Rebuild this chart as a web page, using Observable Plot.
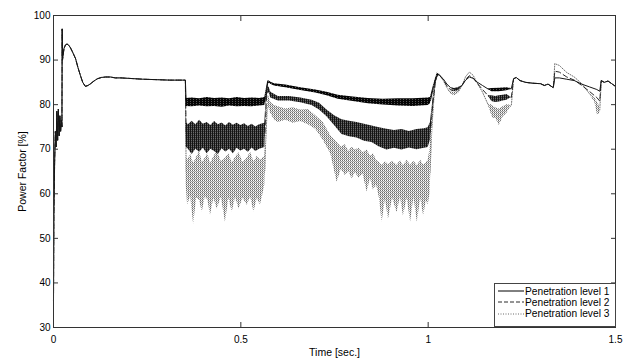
<!DOCTYPE html>
<html>
<head>
<meta charset="utf-8">
<script src="https://cdn.jsdelivr.net/npm/d3@7"></script>
<script src="https://cdn.jsdelivr.net/npm/@observablehq/plot@0.6"></script>
<style>
  body { margin: 0; background: #fff; }
  #wrap { position: relative; width: 643px; height: 361px; font-family: "Liberation Sans", Arial, sans-serif; }
  #legend { position: absolute; left: 494px; top: 283px; width: 122px; height: 44px; box-sizing: border-box;
            border: 1px solid #444; background: #fff; padding-top: 1.5px; }
  .row { height: 11.3px; display: flex; align-items: center; font-size: 10.2px; color: #000; white-space: nowrap; }
  .row svg { margin-left: 3px; margin-right: 1px; }
</style>
</head>
<body>
<div id="wrap"></div>
<script>
// ---- data ----
const xTicks = [0, 0.5, 1, 1.5];
const xTickLabels = ["0", "0.5", "1", "1.5"];
const yTicks = [30, 40, 50, 60, 70, 80, 90, 100];
const seriesNames = ["Penetration level 1", "Penetration level 2", "Penetration level 3"];

// common start-up transient (all three levels coincide)
const startT = [0, 0.001, 0.003, 0.005, 0.007, 0.009, 0.011, 0.013, 0.015, 0.017, 0.019, 0.021, 0.0225, 0.0232, 0.024, 0.028, 0.032, 0.036, 0.040, 0.045, 0.052, 0.059, 0.065, 0.072, 0.078, 0.085, 0.092, 0.099, 0.108, 0.117, 0.128, 0.139, 0.152, 0.165, 0.18, 0.20, 0.24, 0.277, 0.31, 0.33];
const startV = [36, 55, 67, 74, 70.5, 78.5, 72, 79, 73, 77.5, 74, 76.5, 75, 97, 90, 92.6, 93.4, 93.6, 93.4, 92.8, 91.6, 90.3, 88.4, 86.5, 85.0, 84.1, 84.3, 84.7, 85.3, 85.8, 86.1, 86.2, 86.2, 86.0, 86.0, 85.9, 85.7, 85.6, 85.5, 85.5];

// [time, lower envelope, upper envelope]
const level1 = [
  [0.352,85.5,85.5],[0.354,79.6,81.4],[0.37,79.5,81.5],[0.39,79.7,81.3],[0.41,79.5,81.6],[0.43,79.6,81.4],
  [0.45,79.4,81.5],[0.47,79.7,81.3],[0.49,79.5,81.6],[0.51,79.6,81.4],[0.53,79.5,81.5],[0.55,79.7,81.4],
  [0.564,79.8,81.6],[0.568,82.0,83.5],[0.572,84.6,85.3],[0.576,84.9,85.3],[0.58,84.6,85.0],[0.59,84.2,84.7],
  [0.62,83.8,84.4],[0.66,83.2,83.8],[0.70,82.6,83.3],[0.73,82.0,82.8],[0.76,81.2,82.1],[0.80,80.7,81.7],
  [0.84,80.2,81.4],[0.88,79.9,81.2],[0.92,79.7,81.3],[0.96,79.6,81.3],[1.0,79.8,81.5],[1.006,80.2,81.6],
  [1.015,84.0,84.5],[1.025,86.5,87.0],[1.03,86.6,86.6],[1.04,85.8,85.8],[1.05,84.6,84.6],[1.06,83.8,83.8],
  [1.07,83.4,83.6],[1.08,83.6,83.8],[1.09,84.3,84.3],[1.10,85.5,85.5],[1.11,86.2,86.2],[1.12,85.9,85.9],
  [1.13,85.1,85.1],[1.145,84.3,84.3],[1.16,83.5,83.5],[1.17,82.9,83.6],[1.19,82.9,83.7],[1.21,83.1,83.8],
  [1.222,83.6,83.6],[1.228,85.8,85.8],[1.235,86.1,86.1],[1.245,85.4,85.4],[1.26,85.0,85.0],[1.28,84.8,84.8],
  [1.30,84.7,84.7],[1.31,84.3,84.3],[1.32,84.6,84.6],[1.334,83.8,83.8],[1.338,86.0,86.0],[1.35,86.0,86.0],
  [1.37,85.7,85.7],[1.39,85.4,85.4],[1.41,84.6,84.6],[1.43,84.0,84.0],[1.45,83.4,83.4],[1.458,83.0,83.0],
  [1.462,85.4,85.4],[1.47,85.0,85.0],[1.48,85.3,85.3],[1.49,84.7,84.7],[1.5,84.1,84.1]
];

const level2 = [
  [0.352,85.5,85.5],[0.354,70.5,76.0],[0.36,70.0,75.5],[0.37,68.8,76.3],[0.38,70.0,75.5],[0.39,69.3,76.5],
  [0.40,70.2,75.6],[0.41,69.0,76.0],[0.42,70.0,75.3],[0.43,69.5,76.2],[0.44,68.8,75.5],[0.45,70.1,75.9],
  [0.46,69.4,75.2],[0.47,70.0,76.0],[0.48,69.0,75.4],[0.49,70.2,75.8],[0.50,69.6,75.3],[0.51,70.0,75.7],
  [0.52,69.3,75.1],[0.53,70.3,75.6],[0.54,69.5,75.0],[0.55,70.0,75.5],[0.564,70.4,75.8],[0.568,80.0,82.0],
  [0.572,83.0,84.2],[0.576,82.5,83.8],[0.58,81.5,82.8],[0.60,80.8,81.8],[0.63,80.8,81.8],[0.66,80.4,81.5],
  [0.69,79.8,81.0],[0.71,78.8,80.3],[0.73,77.3,78.8],[0.75,75.3,77.5],[0.77,73.3,76.6],[0.79,72.8,76.3],
  [0.81,72.5,76.0],[0.83,71.8,75.6],[0.85,71.5,75.2],[0.87,70.5,74.8],[0.89,69.8,74.5],[0.91,70.2,74.2],
  [0.93,69.8,74.4],[0.95,70.3,74.0],[0.97,69.9,74.4],[0.99,70.2,74.6],[1.0,70.4,74.8],[1.006,72.0,76.0],
  [1.012,79.0,80.5],[1.02,85.3,86.0],[1.025,86.6,87.0],[1.03,86.6,86.6],[1.04,85.6,85.6],[1.05,84.2,84.2],
  [1.06,83.3,83.3],[1.07,82.9,83.3],[1.08,83.2,83.6],[1.09,84.2,84.2],[1.10,85.7,85.7],[1.11,86.5,86.5],
  [1.12,86.0,86.0],[1.13,84.9,84.9],[1.145,83.4,83.4],[1.16,82.0,82.0],[1.17,80.7,82.0],[1.18,80.5,81.8],
  [1.19,80.6,82.0],[1.20,80.8,82.1],[1.21,81.0,82.3],[1.222,81.6,81.6],[1.228,85.8,85.8],[1.235,86.1,86.1],
  [1.245,85.4,85.4],[1.26,85.0,85.0],[1.28,84.8,84.8],[1.30,84.7,84.7],[1.31,84.3,84.3],[1.32,84.6,84.6],
  [1.334,83.8,83.8],[1.338,87.5,87.5],[1.35,87.3,87.3],[1.37,86.2,86.2],[1.39,85.5,85.5],[1.41,84.3,84.3],
  [1.43,83.0,83.0],[1.45,81.6,81.6],[1.458,80.8,80.8],[1.462,85.4,85.4],[1.47,85.0,85.0],[1.48,85.3,85.3],
  [1.49,84.7,84.7],[1.5,84.1,84.1]
];

const level3 = [
  [0.352,85.5,85.5],[0.354,62.0,68.5],[0.358,57.4,67.5],[0.366,59.5,68.8],[0.374,53.1,66.8],[0.382,59.0,68.2],
  [0.390,58.5,69.5],[0.397,55.9,67.0],[0.405,59.3,68.0],[0.412,58.6,69.0],[0.419,55.2,66.8],[0.428,59.0,68.3],
  [0.437,56.6,69.6],[0.448,59.2,67.2],[0.459,53.6,68.0],[0.468,59.0,69.0],[0.477,55.9,66.9],[0.486,59.2,68.2],
  [0.495,56.6,69.2],[0.506,59.0,67.0],[0.517,57.4,68.0],[0.526,59.3,69.3],[0.535,55.9,67.1],[0.544,59.0,68.4],
  [0.552,57.4,67.5],[0.558,59.5,68.0],[0.564,62.0,68.5],[0.566,70.0,72.0],[0.570,77.0,80.0],[0.574,79.5,82.0],
  [0.58,78.0,80.5],[0.59,76.5,79.8],[0.60,76.0,79.5],[0.62,76.5,79.0],[0.64,75.8,79.3],[0.66,76.2,78.8],
  [0.68,75.5,78.9],[0.70,74.5,77.5],[0.72,72.0,76.0],[0.74,69.0,73.0],[0.757,62.6,71.5],[0.768,65.5,70.5],
  [0.779,64.1,71.0],[0.788,65.0,69.5],[0.797,63.3,70.5],[0.806,64.8,69.8],[0.815,63.5,70.2],[0.826,64.5,69.2],
  [0.837,60.4,69.8],[0.846,63.5,68.5],[0.854,60.8,69.0],[0.862,62.0,67.5],[0.870,59.0,67.0],[0.877,53.6,66.3],
  [0.886,58.8,67.2],[0.894,54.3,66.5],[0.905,59.0,67.3],[0.917,55.8,66.4],[0.926,59.2,67.4],[0.934,55.0,66.3],
  [0.944,59.0,67.5],[0.953,53.6,66.4],[0.962,59.2,67.3],[0.971,53.6,66.3],[0.98,59.0,67.5],[0.988,55.0,66.4],
  [0.995,58.5,67.0],[1.0,57.4,67.5],[1.005,60.0,70.0],[1.01,72.0,78.0],[1.018,84.0,85.5],[1.025,86.5,87.3],
  [1.03,86.8,86.8],[1.04,85.5,85.5],[1.05,83.8,83.8],[1.06,82.4,82.9],[1.07,82.0,82.7],[1.08,82.5,83.1],
  [1.09,84.2,84.2],[1.10,86.3,86.3],[1.11,87.3,87.3],[1.12,86.6,86.6],[1.13,85.0,85.0],[1.145,82.8,82.8],
  [1.16,80.0,80.0],[1.17,77.5,80.0],[1.175,76.8,79.5],[1.18,77.0,79.3],[1.19,75.3,79.0],[1.20,77.2,79.5],
  [1.21,78.0,80.0],[1.222,79.8,79.8],[1.228,85.8,85.8],[1.235,86.1,86.1],[1.245,85.4,85.4],[1.26,85.0,85.0],
  [1.28,84.8,84.8],[1.30,84.7,84.7],[1.31,84.3,84.3],[1.32,84.6,84.6],[1.334,83.8,83.8],[1.338,89.2,89.2],
  [1.35,88.8,88.8],[1.37,87.2,87.2],[1.39,86.2,86.2],[1.41,84.7,84.7],[1.43,82.5,82.5],[1.445,80.5,81.5],
  [1.452,77.6,80.5],[1.458,78.0,79.5],[1.462,85.4,85.4],[1.47,85.0,85.0],[1.48,85.3,85.3],[1.49,84.7,84.7],
  [1.5,84.1,84.1]
];

// ---- build tables ----
function table(rows) {
  const out = startT.map((t, i) => ({t, lo: startV[i], hi: startV[i]}));
  rows.forEach(([t, lo, hi]) => out.push({t, lo, hi}));
  out.forEach((d) => (d.mid = (d.lo + d.hi) / 2));
  return out;
}
const data1 = table(level1), data2 = table(level2), data3 = table(level3);

const styles = [
  {fill: "url(#bandSolid)", stroke: "#151515", dash: null, width: 1},
  {fill: "url(#bandDash)", stroke: "#2a2a2a", dash: "5,3", width: 1},
  {fill: "url(#bandDot)", stroke: "#707070", dash: "1,1.5", width: 1}
];

function seriesMarks(data, s) {
  return [
    Plot.line(data, {x: "t", y: "mid", stroke: s.stroke, strokeWidth: s.width, strokeDasharray: s.dash}),
    Plot.areaY(data, {x: "t", y1: "lo", y2: "hi", fill: s.fill})
  ];
}

const svg = Plot.plot({
  width: 643,
  height: 361,
  marginLeft: 53,
  marginRight: 28,
  marginTop: 15,
  marginBottom: 34,
  style: {fontFamily: "'Liberation Sans', Arial, sans-serif", fontSize: "10px", color: "#000", background: "#fff"},
  x: {domain: [0, 1.5]},
  y: {domain: [30, 100]},
  marks: [
    ...seriesMarks(data3, styles[2]),
    ...seriesMarks(data2, styles[1]),
    ...seriesMarks(data1, styles[0]),
    Plot.frame({stroke: "#333"}),
    Plot.axisY({anchor: "left", ticks: yTicks, tickSize: 0, tickPadding: 3, fontSize: 10,
                label: null}),
    Plot.axisY({anchor: "left", ticks: yTicks, tickSize: 0, tickFormat: () => "", fontSize: 10.5,
                label: "Power Factor [%]", labelAnchor: "center", labelOffset: 35, labelArrow: false}),
    Plot.axisY({anchor: "left", ticks: yTicks, tickSize: -5, tickFormat: () => "", label: null, stroke: "#333"}),
    Plot.axisY({anchor: "right", ticks: yTicks, tickSize: -5, tickFormat: () => "", label: null, stroke: "#333"}),
    Plot.axisX({anchor: "bottom", ticks: xTicks, tickSize: 0, tickPadding: 8, fontSize: 10,
                tickFormat: (d) => xTickLabels[xTicks.indexOf(d)], label: null}),
    Plot.axisX({anchor: "bottom", ticks: xTicks, tickSize: 0, tickFormat: () => "", fontSize: 10.5,
                label: "Time [sec.]", labelAnchor: "center", labelOffset: 28, labelArrow: false}),
    Plot.axisX({anchor: "bottom", ticks: xTicks, tickSize: -5, tickFormat: () => "", label: null, stroke: "#333"}),
    Plot.axisX({anchor: "top", ticks: xTicks, tickSize: -5, tickFormat: () => "", label: null, stroke: "#333"})
  ]
});

// fill patterns for the oscillation bands
const defs = d3.select(svg).insert("defs", ":first-child");
function pattern(id, w, h, bg, cells) {
  const p = defs.append("pattern").attr("id", id).attr("patternUnits", "userSpaceOnUse").attr("width", w).attr("height", h);
  p.append("rect").attr("width", w).attr("height", h).attr("fill", bg);
  cells.forEach(([x, y, c]) => p.append("rect").attr("x", x).attr("y", y).attr("width", 1).attr("height", 1).attr("fill", c));
}
pattern("bandSolid", 3, 2, "#050505", [[1, 1, "#555"]]);
pattern("bandDash", 2, 2, "#141414", [[1, 0, "#6a6a6a"], [1, 1, "#3a3a3a"]]);
pattern("bandDot", 2, 2, "#fff", [[0, 0, "#6a6a6a"], [0, 1, "#d0d0d0"], [1, 1, "#9a9a9a"]]);

const wrap = document.getElementById("wrap");
wrap.appendChild(svg);

// legend
const legend = document.createElement("div");
legend.id = "legend";
const legendDash = [null, "4,2", "1,1.5"];
const legendStroke = ["#000", "#2a2a2a", "#6a6a6a"];
seriesNames.forEach((name, i) => {
  const row = document.createElement("div");
  row.className = "row";
  row.innerHTML = `<svg width="26" height="6"><line x1="0" y1="3" x2="26" y2="3" stroke="${legendStroke[i]}" stroke-width="1" ${legendDash[i] ? `stroke-dasharray="${legendDash[i]}"` : ""}/></svg><span>${name}</span>`;
  legend.appendChild(row);
});
wrap.appendChild(legend);
</script>
</body>
</html>
